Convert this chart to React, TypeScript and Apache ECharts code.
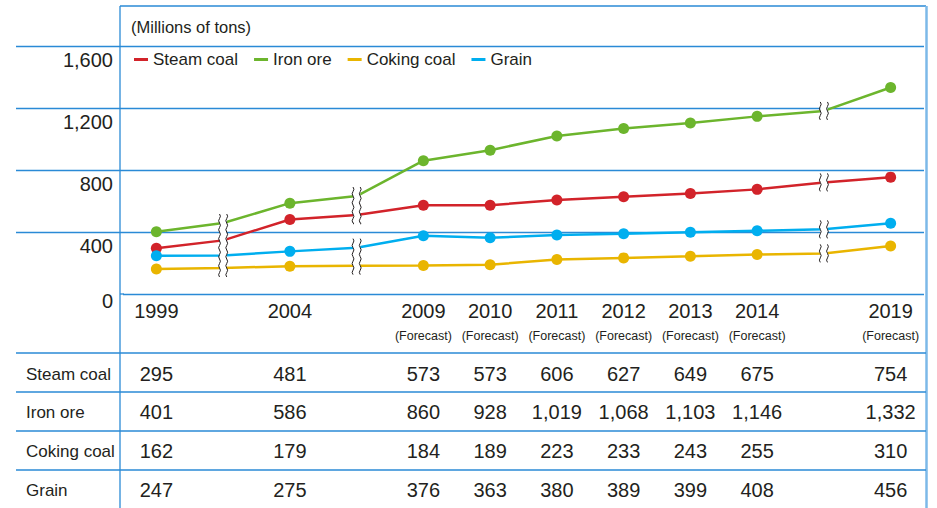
import React, { useEffect, useRef } from 'react';
import * as echarts from 'echarts';

// ---- data ----
const categories = ['1999', 'gap1', '2004', 'gap2', '2009', '2010', '2011', '2012', '2013', '2014', 'gap3', '2019'];
const yearLabels = ['1999', '', '2004', '', '2009', '2010', '2011', '2012', '2013', '2014', '', '2019'];
const forecastFlags = [false, false, false, false, true, true, true, true, true, true, false, true];
const breakIndices = [1, 3, 10];

const seriesNames = ['Steam coal', 'Iron ore', 'Coking coal', 'Grain'];
// values at the break positions (where the line meets the break mark)
const steamCoal = [295, 346, 481, 510, 573, 573, 606, 627, 649, 675, 720, 754];
const ironOre = [401, 458, 586, 632, 860, 928, 1019, 1068, 1103, 1146, 1181, 1332];
const cokingCoal = [162, 168, 179, 183, 184, 189, 223, 233, 243, 255, 262, 310];
const grain = [247, 249, 275, 299, 376, 363, 380, 389, 399, 408, 417, 456];
const seriesValues = [steamCoal, ironOre, cokingCoal, grain];

const yMin = 0;
const yMax = 1600;
const yInterval = 400;

// ---- styles ----
const FONT = "'Liberation Sans', Arial, Helvetica, sans-serif";
const TEXT = '#231f20';
const BLUE = '#2a8ad6';
const LIGHT_BLUE = '#7cb9e8';
const COLORS = ['#d2232a', '#6cb52d', '#e9b500', '#00aeef'];
const ROW_OFFSETS = [80, 118.3, 157.3, 196.3];
const AXIS_Y = 294;
const TABLE_LINES = [353, 392, 431, 470];

const fmt = (v: number) => v.toLocaleString('en-US');

function wave(x: number, y0: number, y1: number, amp = 1.8, seg = 4.5) {
  let d = `M${x} ${y0}`;
  let y = y0;
  let k = 0;
  while (y < y1 - 0.01) {
    const ny = Math.min(y + seg, y1);
    const cx = x + (k % 2 === 0 ? amp : -amp);
    d += ` Q${cx} ${(y + ny) / 2} ${x} ${ny}`;
    y = ny;
    k++;
  }
  return d;
}

export default function App() {
  const ref = useRef<HTMLDivElement>(null);

  useEffect(() => {
    const chart = echarts.init(ref.current!, null, { renderer: 'svg' });

    const lineSeries = seriesNames.map((name, s) => ({
      type: 'line',
      name,
      xAxisIndex: 0,
      yAxisIndex: 0,
      data: seriesValues[s].map((v, i) =>
        breakIndices.includes(i) ? { value: v, symbol: 'none' } : v
      ),
      symbol: 'circle',
      symbolSize: 11,
      lineStyle: { width: 2.5, color: COLORS[s] },
      itemStyle: { color: COLORS[s] },
      z: 3,
    }));

    const breakSeries = {
      type: 'custom',
      xAxisIndex: 0,
      yAxisIndex: 0,
      silent: true,
      clip: false,
      z: 10,
      data: breakIndices.map((i) => [i, 0]),
      renderItem: (params: any, api: any) => {
        const idx = api.value(0);
        const pts = seriesValues.map((arr) => api.coord([idx, arr[idx]]));
        const x = pts[0][0];
        const ys = pts.map((p: number[]) => p[1]).sort((a: number, b: number) => a - b);
        const clusters: number[][] = [];
        ys.forEach((y: number) => {
          const last = clusters[clusters.length - 1];
          if (last && y - last[1] <= 20) last[1] = y;
          else clusters.push([y, y]);
        });
        const children: any[] = [];
        const half = 3.6;
        clusters.forEach(([a, b]) => {
          const top = a - 9;
          const bot = b + 9;
          children.push({
            type: 'rect',
            shape: { x: x - half, y: top, width: half * 2, height: bot - top },
            style: { fill: '#ffffff' },
          });
          [x - half, x + half].forEach((wx) => {
            children.push({
              type: 'path',
              shape: { pathData: wave(wx, top, bot) },
              style: { fill: 'none', stroke: '#231f20', lineWidth: 1 },
            });
          });
        });
        return { type: 'group', children };
      },
    };

    const tableAxes = seriesValues.map((arr, r) => ({
      gridIndex: 0,
      type: 'category',
      data: categories,
      boundaryGap: true,
      position: 'bottom',
      offset: ROW_OFFSETS[r],
      axisLine: { show: false },
      axisTick: { show: false },
      splitLine: { show: false },
      axisLabel: {
        interval: 0,
        margin: 0,
        verticalAlign: 'middle',
        fontSize: 20,
        color: TEXT,
        fontFamily: FONT,
        formatter: (_v: string, i: number) => (breakIndices.includes(i) ? '' : fmt(arr[i])),
      },
    }));

    const graphicLines = [
      { x1: 120, y1: 6, x2: 120, y2: 508, c: BLUE, w: 1.3 },
      { x1: 120, y1: 6, x2: 926, y2: 6, c: BLUE, w: 1.3 },
      { x1: 926.5, y1: 6, x2: 926.5, y2: 508, c: LIGHT_BLUE, w: 2.5 },
      { x1: 120, y1: AXIS_Y, x2: 124, y2: AXIS_Y, c: BLUE, w: 1.3 },
      ...TABLE_LINES.map((y) => ({ x1: 16, y1: y, x2: 926, y2: y, c: BLUE, w: 1.3 })),
    ].map((l) => ({
      type: 'line',
      silent: true,
      shape: { x1: l.x1, y1: l.y1, x2: l.x2, y2: l.y2 },
      style: { stroke: l.c, lineWidth: l.w },
      z: 1,
    }));

    const rowHeaders = seriesNames.map((name, r) => ({
      type: 'text',
      x: 26,
      y: AXIS_Y + ROW_OFFSETS[r],
      silent: true,
      style: {
        text: name,
        fontSize: 17,
        fontFamily: FONT,
        fill: TEXT,
        verticalAlign: 'middle',
        align: 'left',
      },
    }));

    const option: any = {
      animation: false,
      backgroundColor: '#ffffff',
      title: {
        text: '(Millions of tons)',
        left: 131,
        top: 18,
        padding: 0,
        textStyle: { fontSize: 16.5, fontWeight: 'normal', color: TEXT, fontFamily: FONT },
      },
      legend: {
        left: 134,
        top: 51,
        padding: 0,
        icon: 'rect',
        itemWidth: 14,
        itemHeight: 3,
        itemGap: 16,
        data: seriesNames,
        textStyle: { fontSize: 17, color: TEXT, fontFamily: FONT },
      },
      grid: [
        { left: 123, right: 13, top: 46, bottom: 508 - AXIS_Y },
        { left: 16, width: 107, top: 46, bottom: 508 - AXIS_Y },
      ],
      xAxis: [
        {
          gridIndex: 0,
          type: 'category',
          data: categories,
          boundaryGap: true,
          axisLine: { show: false },
          axisTick: { show: false },
          splitLine: { show: false },
          axisLabel: {
            interval: 0,
            margin: 5,
            formatter: (_v: string, i: number) => {
              const y = yearLabels[i];
              if (!y) return '';
              return forecastFlags[i] ? `{y|${y}}\n{f|(Forecast)}` : `{y|${y}}`;
            },
            rich: {
              y: { fontSize: 20, lineHeight: 24, color: TEXT, fontFamily: FONT },
              f: { fontSize: 12.5, lineHeight: 26, color: TEXT, fontFamily: FONT },
            },
          },
        },
        { gridIndex: 1, type: 'value', show: false, min: 0, max: 1 },
        ...tableAxes,
      ],
      yAxis: [
        {
          gridIndex: 0,
          type: 'value',
          min: yMin,
          max: yMax,
          interval: yInterval,
          axisLine: { show: false },
          axisTick: { show: false },
          splitLine: { show: true, lineStyle: { color: BLUE, width: 1.3 } },
          axisLabel: {
            margin: 10,
            formatter: (v: number) => (v === 0 ? '{z|0}' : `{a|${fmt(v)}}`),
            rich: {
              a: { padding: [27, 0, 0, 0], fontSize: 20, color: TEXT, fontFamily: FONT },
              z: { padding: [13, 0, 0, 0], fontSize: 20, color: TEXT, fontFamily: FONT },
            },
          },
        },
        {
          gridIndex: 1,
          type: 'value',
          min: yMin,
          max: yMax,
          interval: yInterval,
          axisLine: { show: false },
          axisTick: { show: false },
          axisLabel: { show: false },
          splitLine: { show: true, showMinLine: false, lineStyle: { color: BLUE, width: 1.3 } },
        },
      ],
      graphic: [...graphicLines, ...rowHeaders],
      series: [...lineSeries, breakSeries],
    };

    chart.setOption(option);
    return () => chart.dispose();
  }, []);

  return (
    <div
      ref={ref}
      style={{ position: 'absolute', left: 0, top: 0, width: 937, height: 508 }}
    />
  );
}
